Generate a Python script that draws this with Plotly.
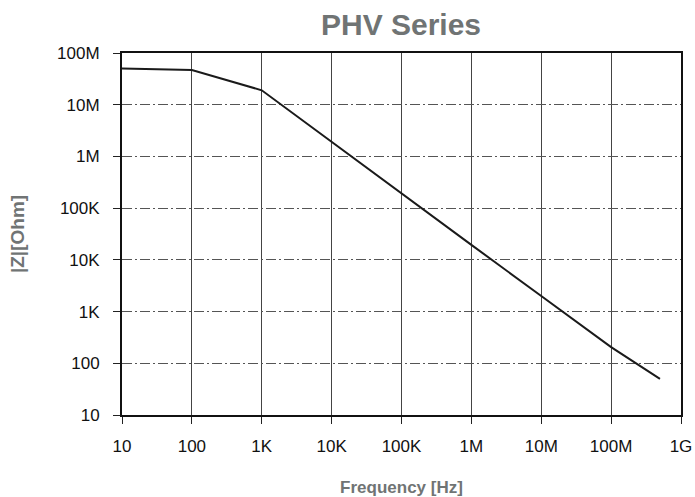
import plotly.graph_objects as go

freq_hz = [10, 100, 1e3, 1e4, 1e5, 1e6, 1e7, 1e8, 5e8]
impedance_ohm = [5.0e7, 4.7e7, 1.9e7, 1.9e6, 1.9e5, 1.95e4, 2.0e3, 2.05e2, 5.0e1]

x_tickvals = [1e1, 1e2, 1e3, 1e4, 1e5, 1e6, 1e7, 1e8, 1e9]
x_ticktext = ["10", "100", "1K", "10K", "100K", "1M", "10M", "100M", "1G"]
y_tickvals = [1e1, 1e2, 1e3, 1e4, 1e5, 1e6, 1e7, 1e8]
y_ticktext = ["10", "100", "1K", "10K", "100K", "1M", "10M", "100M"]

fig = go.Figure()
fig.add_trace(go.Scatter(
    x=freq_hz, y=impedance_ohm, mode="lines",
    line=dict(color="#1a1a1a", width=2),
    showlegend=False, hoverinfo="skip",
))

FAM = "Liberation Sans, Arial, sans-serif"
font_ticks = dict(family=FAM, size=17, color="#111111")
gray = "#707474"

fig.update_layout(
    width=695, height=497,
    margin=dict(l=122, r=14, t=53, b=82, autoexpand=False),
    paper_bgcolor="white", plot_bgcolor="white",
    title=dict(text="<b>PHV Series</b>", x=401 / 695, xref="container", xanchor="center",
               y=(497 - 24) / 497, yref="container", yanchor="middle",
               font=dict(family=FAM, size=30, color=gray)),
    xaxis=dict(
        type="log", range=[1, 9], automargin=False,
        tickvals=x_tickvals, ticktext=x_ticktext,
        tickfont=font_ticks, ticklabelstandoff=8,
        ticks="outside", ticklen=7, tickcolor="#222222", tickwidth=1,
        showgrid=True, gridcolor="#444444", gridwidth=1,
        showline=True, linecolor="#111111", linewidth=1.5, mirror=True,
        zeroline=False,
        title=dict(text="<b>Frequency [Hz]</b>", standoff=29,
                   font=dict(family=FAM, size=17, color=gray)),
    ),
    yaxis=dict(
        type="log", range=[1, 8], automargin=False,
        tickvals=y_tickvals, ticktext=y_ticktext,
        tickfont=font_ticks, ticklabelstandoff=10,
        ticks="outside", ticklen=7, tickcolor="#222222", tickwidth=1,
        showgrid=True, gridcolor="#555555", gridwidth=1, griddash="10px,3px,2px,3px",
        showline=True, linecolor="#111111", linewidth=2, mirror=True,
        zeroline=False,
        title=dict(text="<b>|Z|[Ohm]</b>", standoff=27,
                   font=dict(family=FAM, size=19, color=gray)),
    ),
)

fig.write_html("out.html", config={"displayModeBar": False})

# remove the default 8px body margin so the figure sits at the page origin
with open("out.html", "r", encoding="utf-8") as f:
    html = f.read()
html = html.replace("<head>", "<head><style>html,body{margin:0;padding:0;overflow:hidden;}</style>", 1)
with open("out.html", "w", encoding="utf-8") as f:
    f.write(html)
